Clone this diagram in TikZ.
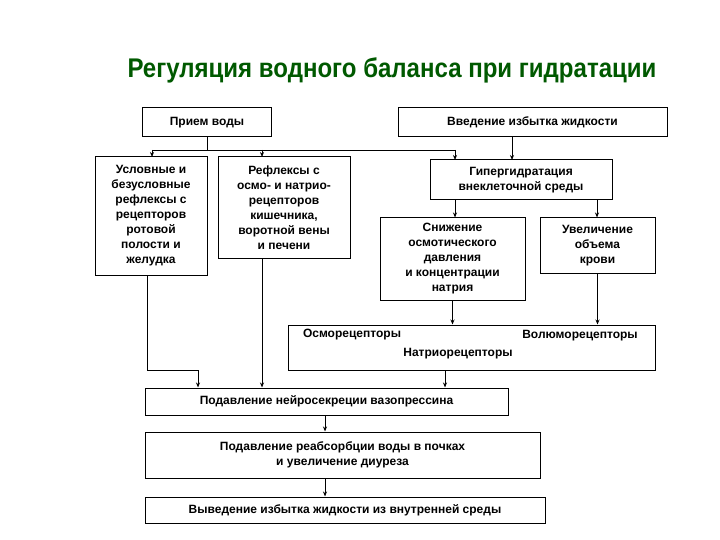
\documentclass[tikz,border=0pt]{standalone}
\usepackage{fontspec}
\setmainfont{Liberation Sans}
\usetikzlibrary{arrows.meta}
\begin{document}
\begin{tikzpicture}[x=1pt,y=-1pt,
  bx/.style={draw,line width=1pt,align=center,font=\fontsize{12}{15}\selectfont\bfseries,inner sep=1pt},
  rl/.style={font=\fontsize{12}{15}\selectfont\bfseries},
  ar/.style={-{Stealth[length=5pt,width=4pt]},line width=0.9pt}]
\useasboundingbox (0,0) rectangle (720,540);
\node[text=green!35!black,font=\fontsize{27}{30}\selectfont\bfseries,xscale=0.89] (t) at (392,70) {Регуляция водного баланса при гидратации};
\node[bx,minimum width=129,minimum height=29] (pv) at (207,122.5) {Прием воды};
\node[bx,minimum width=269,minimum height=29] (vv) at (532.5,122.5) {Введение избытка жидкости};
\node[bx,minimum width=112,minimum height=118] (us) at (151,216) {Условные и\\безусловные\\рефлексы с\\рецепторов\\ротовой\\полости и\\желудка};
\node[bx,minimum width=132,minimum height=101] (rf) at (284,207.5) {Рефлексы с\\осмо- и натрио-\\рецепторов\\кишечника,\\воротной вены\\и печени};
\node[bx,minimum width=182,minimum height=40] (gg) at (521,180) {Гипергидратация\\внеклеточной среды};
\node[bx,minimum width=145,minimum height=82] (sn) at (452.5,259) {Снижение\\осмотического\\давления\\и концентрации\\натрия};
\node[bx,minimum width=115,minimum height=55] (uv) at (597.5,245.5) {Увеличение\\объема\\крови};
\node[draw,line width=1pt,minimum width=367,minimum height=45] (rc) at (471.5,347.5) {};
\node[rl] (r1) at (352,335) {Осморецепторы};
\node[rl] (r2) at (580,336) {Волюморецепторы};
\node[rl] (r3) at (458,354) {Натриорецепторы};
\node[bx,minimum width=363,minimum height=27] (pn) at (326.5,401.5) {Подавление нейросекреции вазопрессина};
\node[bx,minimum width=395,minimum height=46] (pr) at (342.5,455) {Подавление реабсорбции воды в почках\\и увеличение диуреза};
\node[bx,minimum width=400,minimum height=26] (vy) at (345,510) {Выведение избытка жидкости из внутренней среды};
\coordinate (j) at (207,150);
\draw[line width=0.9pt] (pv.south) -- (j);
\draw[line width=0.9pt] (152,150) -- (455,150);
\draw[ar] (152,150) -- (152,157);
\draw[ar] (262,150) -- (262,157);
\draw[ar] (455,150) -- (455,160);
\draw[ar] (vv.south -| 512,0) -- (512,160);
\draw[ar] (gg.south -| 455,0) -- (sn.north -| 455,0);
\draw[ar] (gg.south -| 597,0) -- (uv.north -| 597,0);
\draw[ar] (sn.south) -- (rc.north -| sn.south);
\draw[ar] (uv.south) -- (rc.north -| uv.south);
\draw[ar] (us.south -| 147,0) |- (198,370) -- (pn.north -| 198,0);
\draw[ar] (rf.south -| 262,0) -- (pn.north -| 262,0);
\draw[ar] (rc.south -| 445,0) -- (pn.north -| 445,0);
\draw[ar] (pn.south -| 325,0) -- (pr.north -| 325,0);
\draw[ar] (pr.south -| 325,0) -- (vy.north -| 325,0);
\end{tikzpicture}
\end{document}
